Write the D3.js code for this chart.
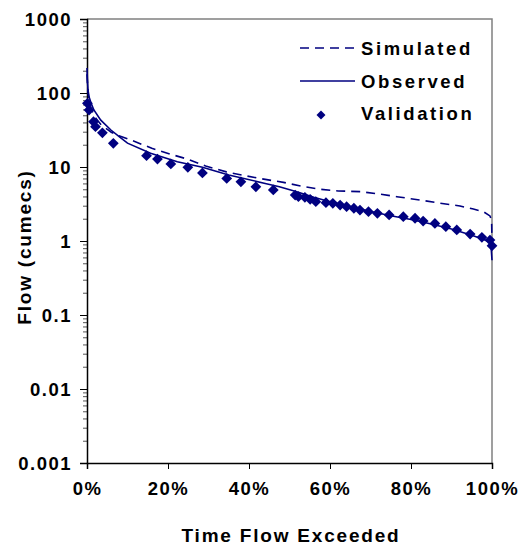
<!DOCTYPE html>
<html>
<head>
<meta charset="utf-8">
<script src="https://cdn.jsdelivr.net/npm/d3@7/dist/d3.min.js"></script>
<style>
  body { margin: 0; background: #fff; }
  text { font-family: "Liberation Sans", Arial, sans-serif; font-weight: bold; fill: #000; }
</style>
</head>
<body>
<svg id="chart" width="529" height="547"></svg>
<script>
// percent of time exceeded vs flow (cumecs)
var observedX = [0, 0.1, 0.25, 0.5, 1, 1.7, 3.4, 5.9, 8.1, 10, 15.7, 22.3, 28.5, 35, 44, 47.5, 52, 56, 60, 65, 70, 75, 80, 85, 90, 95, 98, 99.5, 99.8, 100];
var observedY = [218, 150, 110, 89, 73, 59, 43, 31.6, 25.4, 21, 15.3, 11.8, 9.9, 7.8, 6.0, 5.4, 4.6, 3.9, 3.4, 2.9, 2.5, 2.2, 1.95, 1.7, 1.45, 1.2, 1.05, 0.95, 0.8, 0.55];

var simulatedX = [0, 0.2, 0.5, 1, 2, 3.5, 6, 7.5, 11.5, 16, 20.6, 25, 29.3, 34.4, 39.4, 44, 48.5, 53, 57.7, 62, 67.5, 72.3, 76.5, 82.2, 86.3, 92.1, 95.4, 97.9, 99.5, 99.9, 100];
var simulatedY = [180, 110, 80, 62, 47, 37, 29.5, 27, 22.4, 17.9, 14.9, 12.7, 10.3, 8.6, 7.56, 6.8, 6.2, 5.5, 5.0, 4.75, 4.65, 4.3, 3.97, 3.58, 3.3, 2.97, 2.7, 2.49, 2.18, 1.9, 1.0];

var validationX = [0.1, 0.5, 1.6, 2.1, 3.8, 6.5, 14.7, 17.4, 20.7, 24.9, 28.5, 34.5, 38, 41.7, 46, 51.4, 52.2, 53.8, 55.1, 56.5, 59, 60.7, 62.5, 64.1, 65.9, 67.4, 69.5, 71.7, 74.6, 78.1, 81, 83, 85.9, 88.6, 91.3, 94.6, 97.5, 99.5, 100];
var validationY = [72.6, 58.9, 41, 35, 29, 20.9, 14.2, 12.8, 11, 9.9, 8.3, 7.0, 6.3, 5.4, 4.9, 4.18, 3.97, 3.9, 3.66, 3.4, 3.3, 3.23, 3.06, 2.91, 2.77, 2.62, 2.49, 2.37, 2.25, 2.13, 2.03, 1.86, 1.73, 1.56, 1.41, 1.24, 1.12, 1.03, 0.86];

var yTicks = [0.001, 0.01, 0.1, 1, 10, 100, 1000];
var yTickLabels = ["0.001", "0.01", "0.1", "1", "10", "100", "1000"];
var xTicks = [0, 20, 40, 60, 80, 100];

var seriesNames = ["Simulated", "Observed", "Validation"];
var navy = "#000080";

var margin = {top: 19, right: 37, bottom: 84, left: 87},
    width = 529 - margin.left - margin.right,
    height = 547 - margin.top - margin.bottom;

var svg = d3.select("#chart");
var g = svg.append("g").attr("transform", "translate(" + margin.left + "," + margin.top + ")");

var x = d3.scaleLinear().domain([0, 100]).range([0, width]);
var y = d3.scaleLog().domain([0.001, 1000]).range([height, 0]);

// plot border (top + right grey)
g.append("path")
    .attr("d", "M0,0H" + width + "V" + height)
    .attr("fill", "none")
    .attr("stroke", "#808080")
    .attr("stroke-width", 1.5);

// minor ticks on the log axis
var minor = [];
yTicks.slice(0, -1).forEach(function(t) {
  for (var k = 2; k <= 9; k++) minor.push(t * k);
});
g.append("g")
    .call(d3.axisLeft(y).tickValues(minor).tickSize(4).tickFormat(""))
    .call(function(a) { a.select(".domain").remove(); a.selectAll("line").attr("stroke", "#555"); });

var yAxis = g.append("g")
    .call(d3.axisLeft(y).tickValues(yTicks).tickSize(7).tickPadding(8)
      .tickFormat(function(d, i) { return yTickLabels[i]; }));
yAxis.select(".domain").attr("stroke", "#000").attr("stroke-width", 1.5);
yAxis.selectAll("text").style("font-size", "18.5px").style("letter-spacing", "1.5px").attr("dy", "0.36em");

var xAxis = g.append("g")
    .attr("transform", "translate(0," + height + ")")
    .call(d3.axisBottom(x).tickValues(xTicks).tickSize(6).tickPadding(13)
      .tickFormat(function(d) { return d + "%"; }));
xAxis.select(".domain").attr("stroke", "#000").attr("stroke-width", 1.5);
xAxis.selectAll("text").style("font-size", "18.5px").style("letter-spacing", "1.5px");

// axis titles
svg.append("text")
    .attr("x", margin.left + 204)
    .attr("y", 542)
    .attr("text-anchor", "middle")
    .style("font-size", "19px")
    .style("letter-spacing", "1.8px")
    .text("Time Flow Exceeded");

svg.append("text")
    .attr("transform", "translate(31,247) rotate(-90)")
    .attr("text-anchor", "middle")
    .style("font-size", "19px")
    .style("letter-spacing", "1.8px")
    .text("Flow (cumecs)");

var line = d3.line()
    .x(function(d) { return x(d[0]); })
    .y(function(d) { return y(d[1]); });

g.append("path")
    .datum(d3.zip(simulatedX, simulatedY))
    .attr("fill", "none")
    .attr("stroke", navy)
    .attr("stroke-width", 1.6)
    .attr("stroke-dasharray", "9,6")
    .attr("d", line);

g.append("path")
    .datum(d3.zip(observedX, observedY))
    .attr("fill", "none")
    .attr("stroke", navy)
    .attr("stroke-width", 1.6)
    .attr("d", line);

var diamond = d3.symbol().type(d3.symbolSquare).size(58);

g.append("g").selectAll("path")
    .data(d3.zip(validationX, validationY))
  .enter().append("path")
    .attr("d", diamond)
    .attr("fill", navy)
    .attr("transform", function(d) { return "translate(" + x(d[0]) + "," + y(d[1]) + ") rotate(45)"; });

// legend
var legend = svg.append("g");
var legendY = [48, 81, 113];
seriesNames.forEach(function(name, i) {
  var row = legend.append("g").attr("transform", "translate(0," + legendY[i] + ")");
  if (i < 2) {
    row.append("line")
        .attr("x1", 300).attr("x2", 355)
        .attr("stroke", navy).attr("stroke-width", 1.6)
        .attr("stroke-dasharray", i === 0 ? "9,6" : null);
  } else {
    row.append("path")
        .attr("d", d3.symbol().type(d3.symbolSquare).size(40))
        .attr("fill", navy)
        .attr("transform", "translate(321,2) rotate(45)");
  }
  row.append("text")
      .attr("x", 361)
      .attr("dy", "0.36em")
      .style("font-size", "18.5px")
      .style("letter-spacing", "2.6px")
      .text(name);
});
</script>
</body>
</html>
